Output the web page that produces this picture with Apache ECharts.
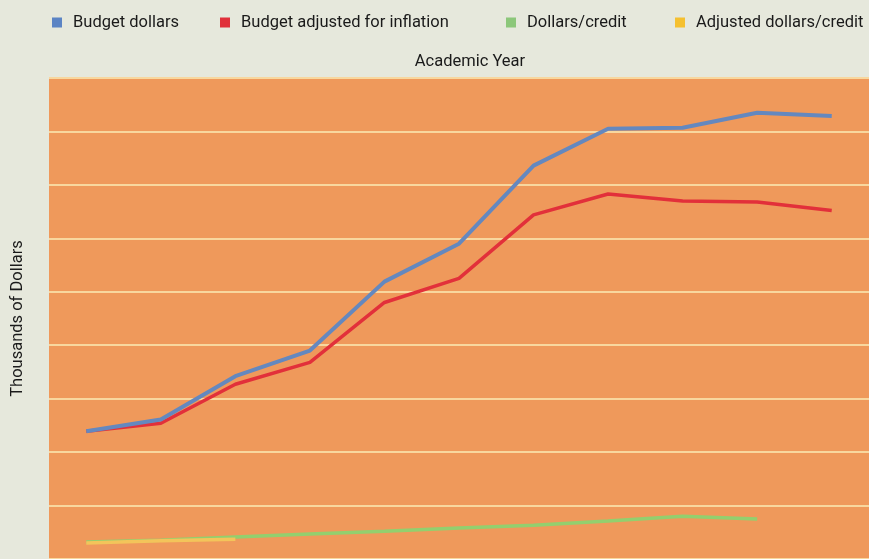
<!DOCTYPE html>
<html>
<head>
<meta charset="utf-8">
<script src="https://cdn.jsdelivr.net/npm/echarts@6/dist/echarts.min.js"></script>
<style>
    html, body { margin: 0; padding: 0; background: #e6e8dc; }
    #chart { width: 869px; height: 559px; }
</style>
</head>
<body>
<div id="chart"></div>
<script>
// academic years (labels not shown in the original picture)
var years = ['1', '2', '3', '4', '5', '6', '7', '8', '9', '10', '11'];

// thousands of dollars
var budgetDollars = [239, 261, 342, 390, 519, 590, 736, 805, 807, 835, 829];
var budgetAdjusted = [239, 254, 327, 368, 480, 525, 644, 683, 670, 668, 652];
var dollarsPerCredit = [32, 35, 41, 47, 52, 58, 63, 71, 80, 75, null];
var adjustedPerCredit = [30, 34, 37, null, null, null, null, null, null, null, null];

var fontName = 'Roboto, sans-serif';

var chart = echarts.init(document.getElementById('chart'));

function legendAt(name, left, color) {
    return {
        data: [{ name: name, icon: 'rect', itemStyle: { color: color } }],
        left: left,
        top: 9,
        itemWidth: 10,
        itemHeight: 10,
        itemGap: 10,
        textStyle: { fontFamily: fontName, fontSize: 16.5, color: '#1a1a1a', padding: [0, 0, 0, 6] }
    };
}

var option = {
    backgroundColor: '#e6e8dc',
    animation: false,
    title: {
        text: 'Academic Year',
        left: 465,
        textAlign: 'center',
        top: 48,
        textStyle: { fontFamily: fontName, fontSize: 16.5, fontWeight: 'normal', color: '#1a1a1a' }
    },
    legend: [
        legendAt('Budget dollars', 47, '#5b84c4'),
        legendAt('Budget adjusted for inflation', 215, '#e0303a'),
        legendAt('Dollars/credit', 501, '#8cc77a'),
        legendAt('Adjusted dollars/credit', 670, '#f5c030')
    ],
    grid: {
        left: 49,
        right: -3,
        top: 78,
        bottom: -1,
        show: true,
        backgroundColor: '#ef995b',
        borderWidth: 0
    },
    xAxis: {
        type: 'category',
        data: years,
        boundaryGap: true,
        axisLine: { show: false },
        axisTick: { show: false },
        axisLabel: { show: false },
        splitLine: { show: false }
    },
    yAxis: {
        type: 'value',
        min: 0,
        max: 900,
        interval: 100,
        name: 'Thousands of Dollars',
        nameLocation: 'middle',
        nameGap: 23,
        nameTextStyle: { fontFamily: fontName, fontSize: 16.5, color: '#1a1a1a' },
        axisLine: { show: false },
        axisTick: { show: false },
        axisLabel: { show: false },
        splitLine: { lineStyle: { color: '#f8d79e', width: 2 } }
    },
    series: [
        {
            name: 'Budget dollars',
            type: 'line',
            data: budgetDollars,
            symbol: 'none',
            lineStyle: { color: '#6488bf', width: 4 },
            itemStyle: { color: '#5b84c4' },
            z: 3
        },
        {
            name: 'Budget adjusted for inflation',
            type: 'line',
            data: budgetAdjusted,
            symbol: 'none',
            lineStyle: { color: '#e2303a', width: 3.5 },
            itemStyle: { color: '#e0303a' },
            z: 2
        },
        {
            name: 'Dollars/credit',
            type: 'line',
            data: dollarsPerCredit,
            symbol: 'none',
            lineStyle: { color: '#93cf6e', width: 3.5 },
            itemStyle: { color: '#8cc77a' },
            z: 2
        },
        {
            name: 'Adjusted dollars/credit',
            type: 'line',
            data: adjustedPerCredit,
            symbol: 'none',
            lineStyle: { color: '#f3c45a', width: 3.5 },
            itemStyle: { color: '#f5c030' },
            z: 3
        }
    ]
};

chart.setOption(option);
</script>
</body>
</html>
